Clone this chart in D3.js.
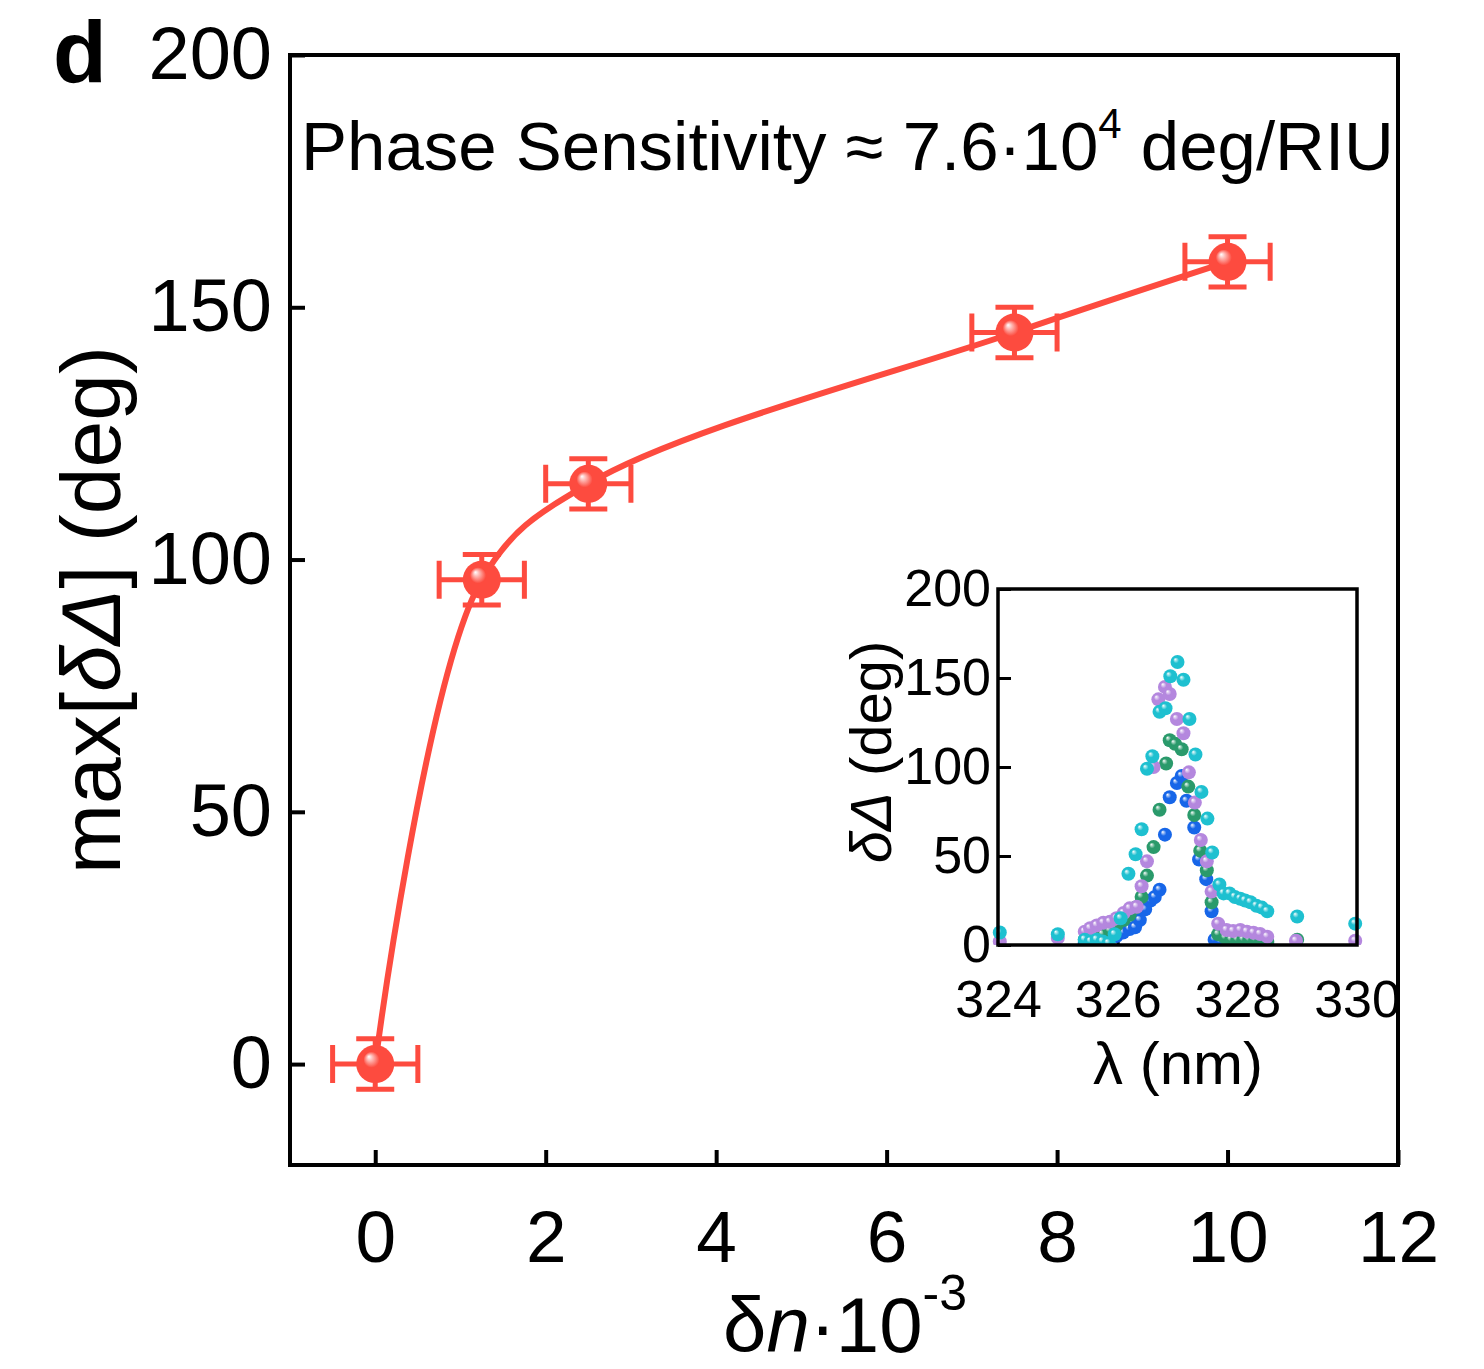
<!DOCTYPE html>
<html>
<head>
<meta charset="utf-8">
<script src="https://cdn.jsdelivr.net/npm/d3@7"></script>
<style>
  body { margin: 0; background: #fff; }
  svg text { font-family: "Liberation Sans", Arial, sans-serif; fill: #000; }
</style>
</head>
<body>
<div class="container"></div>
<script>
// main panel: max phase jump vs refractive index change
var dn = [0, 1.25, 2.5, 7.5, 10];
var maxDelta = [0, 96, 115, 145, 159];
var dnErr = [0.5, 0.5, 0.5, 0.5, 0.5];
var deltaErr = [5, 5, 5, 5, 5];
var xTicks = [0, 2, 4, 6, 8, 10, 12];
var yTicks = [0, 50, 100, 150, 200];

// inset: phase spectra, [lambda nm, delta deg]
var blueSpec = [[325.45,1],[325.55,1.5],[325.65,2],[325.75,3],[325.87,4],[325.98,5],[326.09,7],[326.2,9],
  [326.29,10],[326.37,14],[326.46,20],[326.55,25],[326.62,27],[326.7,31],[326.79,62],[326.87,83],
  [326.99,91],[327.07,95],[327.15,81],[327.28,66],[327.36,48],[327.48,37],[327.57,19],[327.62,3],
  [327.72,2],[327.82,1.5],[327.93,1],[328.05,1],[328.16,1],[328.27,1],[328.38,0.5],[328.5,0.5]];
var greenSpec = [[325.45,3],[325.55,4],[325.65,5],[325.75,6],[325.87,8],[325.98,11],[326.1,14],[326.2,17],
  [326.3,21],[326.4,27],[326.49,39],[326.6,55],[326.7,76],[326.81,102],[326.87,115],[326.96,113],
  [327.07,110],[327.18,89],[327.28,73],[327.38,53],[327.49,42],[327.57,24],[327.68,6],[327.8,4],
  [327.9,3],[328.0,3],[328.1,3],[328.2,3],[328.3,3],[328.4,3],[328.5,2],[329.0,3]];
var purpleSpec = [[324.03,2],[325.0,4],[325.45,7.5],[325.54,9.4],[325.65,11],[325.76,12.5],[325.87,13],
  [325.98,15],[326.1,18],[326.2,20.6],[326.32,21.5],[326.4,33],[326.49,47],[326.6,100],[326.68,138],
  [326.79,145],[326.87,141],[326.99,127],[327.1,119],[327.19,97],[327.29,80],[327.39,59],[327.49,47],
  [327.57,30],[327.68,12],[327.82,8.4],[327.93,7.9],[328.05,8.4],[328.16,7.5],[328.27,6.9],
  [328.38,6.2],[328.5,4.7],[328.98,2.4],[329.97,2.4]];
var cyanSpec = [[324.03,7],[325.0,6],[325.45,3],[325.55,2],[325.65,3],[325.75,2],[325.85,1],[325.95,6],
  [326.05,15],[326.18,40],[326.3,51],[326.4,65],[326.49,99],[326.58,106],[326.7,131],[326.8,133],
  [326.88,151],[327.0,159],[327.1,149],[327.2,127],[327.3,107],[327.4,86],[327.5,71],[327.58,52],
  [327.7,34],[327.77,29],[327.87,29],[327.96,27],[328.05,26],[328.13,25],[328.22,24],[328.32,22],
  [328.41,21],[328.5,19],[329.0,16],[329.97,12]];
var insetXTicks = [324, 326, 328, 330];
var insetYTicks = [0, 50, 100, 150, 200];

var red = "#fd4b3f";
var W = 1484, H = 1369;

var svg = d3.select(".container").append("svg")
    .attr("width", W)
    .attr("height", H);

var defs = svg.append("defs");
function ballGradient(id, color) {
  var g = defs.append("radialGradient")
      .attr("id", id)
      .attr("cx", "0.5").attr("cy", "0.5").attr("r", "0.5")
      .attr("fx", "0.33").attr("fy", "0.3");
  g.append("stop").attr("offset", "0%").attr("stop-color", "#fff");
  g.append("stop").attr("offset", "16%").attr("stop-color", d3.interpolateRgb("#fff", color)(0.4));
  g.append("stop").attr("offset", "42%").attr("stop-color", color);
  g.append("stop").attr("offset", "100%").attr("stop-color", color);
}
ballGradient("ball-red", red);

// ----------
// main axes
var x = d3.scaleLinear().domain([-1, 12]).range([290, 1398]);
var y = d3.scaleLinear().domain([-20, 200]).range([1165, 55]);

svg.append("g")
    .attr("transform", "translate(0,1165)")
    .call(d3.axisBottom(x).tickValues(xTicks).tickSize(-15).tickPadding(45).tickFormat(d3.format("d")))
    .call(function(g) {
      g.select(".domain").remove();
      g.selectAll("line").attr("stroke", "#000").attr("stroke-width", 4);
      g.selectAll("text").attr("font-size", 73).attr("font-family", null);
    });

svg.append("g")
    .attr("transform", "translate(290,0)")
    .call(d3.axisLeft(y).tickValues(yTicks).tickSize(-15).tickPadding(18).tickFormat(d3.format("d")))
    .call(function(g) {
      g.select(".domain").remove();
      g.selectAll("line").attr("stroke", "#000").attr("stroke-width", 4);
      g.selectAll("text").attr("font-size", 74).attr("font-family", null);
    });

svg.append("rect")
    .attr("x", 290).attr("y", 55)
    .attr("width", 1398 - 290).attr("height", 1165 - 55)
    .attr("fill", "none").attr("stroke", "#000").attr("stroke-width", 4);

// curve
var pts = dn.map(function(d, i) { return [d, maxDelta[i]]; });
var line = d3.line()
    .x(function(d) { return x(d[0]); })
    .y(function(d) { return y(d[1]); })
    .curve(d3.curveCatmullRom.alpha(0.5));
svg.append("path")
    .attr("d", line(pts))
    .attr("fill", "none")
    .attr("stroke", red)
    .attr("stroke-width", 6);

// error bars
var eb = svg.append("g").attr("stroke", red).attr("stroke-width", 5).attr("fill", "none");
var cap = 19;
pts.forEach(function(p, i) {
  var cx = x(p[0]), cy = y(p[1]);
  var x0 = x(p[0] - dnErr[i]), x1 = x(p[0] + dnErr[i]);
  var y0 = y(p[1] - deltaErr[i]), y1 = y(p[1] + deltaErr[i]);
  eb.append("path").attr("d",
    "M" + x0 + "," + cy + "H" + x1 +
    "M" + x0 + "," + (cy - cap) + "V" + (cy + cap) +
    "M" + x1 + "," + (cy - cap) + "V" + (cy + cap) +
    "M" + cx + "," + y0 + "V" + y1 +
    "M" + (cx - cap) + "," + y0 + "H" + (cx + cap) +
    "M" + (cx - cap) + "," + y1 + "H" + (cx + cap));
});

svg.append("g").selectAll("circle")
    .data(pts)
    .enter().append("circle")
      .attr("cx", function(d) { return x(d[0]); })
      .attr("cy", function(d) { return y(d[1]); })
      .attr("r", 19)
      .attr("fill", "url(#ball-red)");

// ----------
// labels
svg.append("text")
    .attr("x", 53).attr("y", 82)
    .attr("font-size", 88).attr("font-weight", "bold")
    .text("d");

var title = svg.append("text")
    .attr("x", 301).attr("y", 170)
    .attr("font-size", 69);
title.append("tspan").text("Phase Sensitivity \u2248 7.6\u00b710");
title.append("tspan").attr("font-size", 42).attr("dy", -32).text("4");
title.append("tspan").attr("dy", 32).text(" deg/RIU");

var yl = svg.append("text")
    .attr("transform", "translate(120,610) rotate(-90)")
    .attr("text-anchor", "middle")
    .attr("font-size", 84);
yl.append("tspan").text("max[");
yl.append("tspan").attr("font-style", "italic").text("\u03b4\u0394");
yl.append("tspan").text("] (deg)");

var xl = svg.append("text")
    .attr("x", 845).attr("y", 1352)
    .attr("text-anchor", "middle")
    .attr("font-size", 78);
xl.append("tspan").text("\u03b4");
xl.append("tspan").attr("font-style", "italic").text("n");
xl.append("tspan").text("\u00b710");
xl.append("tspan").attr("font-size", 50).attr("dy", -42).text("-3");

// ----------
// inset
var ix = d3.scaleLinear().domain([324, 330]).range([998, 1357]);
var iy = d3.scaleLinear().domain([0, 200]).range([945, 589]);

var series = [
  { data: blueSpec, color: "#1766e8", id: "ball-blue" },
  { data: greenSpec, color: "#2a9a6b", id: "ball-green" },
  { data: purpleSpec, color: "#b487de", id: "ball-purple" },
  { data: cyanSpec, color: "#1ec0d0", id: "ball-cyan" }
];
series.forEach(function(s) { ballGradient(s.id, s.color); });

var inset = svg.append("g");
inset.append("clipPath").attr("id", "inset-clip")
  .append("rect").attr("x", 990).attr("y", 580).attr("width", 375).attr("height", 365);

inset.append("g")
    .attr("transform", "translate(0,945)")
    .call(d3.axisBottom(ix).tickValues(insetXTicks).tickSize(-10).tickPadding(35).tickFormat(d3.format("d")))
    .call(function(g) {
      g.select(".domain").remove();
      g.selectAll("line").attr("stroke", "#000").attr("stroke-width", 3);
      g.selectAll("text").attr("font-size", 52).attr("font-family", null);
    });

inset.append("g")
    .attr("transform", "translate(998,0)")
    .call(d3.axisLeft(iy).tickValues(insetYTicks).tickSize(-13).tickPadding(7).tickFormat(d3.format("d")))
    .call(function(g) {
      g.select(".domain").remove();
      g.selectAll("line").attr("stroke", "#000").attr("stroke-width", 3);
      g.selectAll("text").attr("font-size", 52).attr("font-family", null);
    });

var dots = inset.append("g").attr("clip-path", "url(#inset-clip)");
series.forEach(function(s) {
  dots.append("g").selectAll("circle")
    .data(s.data)
    .enter().append("circle")
      .attr("cx", function(d) { return ix(d[0]); })
      .attr("cy", function(d) { return iy(d[1]); })
      .attr("r", 7)
      .attr("fill", "url(#" + s.id + ")");
});

inset.append("rect")
    .attr("x", 998).attr("y", 589)
    .attr("width", 1357 - 998).attr("height", 945 - 589)
    .attr("fill", "none").attr("stroke", "#000").attr("stroke-width", 3.5);

var iyl = inset.append("text")
    .attr("transform", "translate(891,752) rotate(-90)")
    .attr("text-anchor", "middle")
    .attr("font-size", 58);
iyl.append("tspan").attr("font-style", "italic").text("\u03b4\u0394");
iyl.append("tspan").text(" (deg)");

inset.append("text")
    .attr("x", 1178).attr("y", 1084)
    .attr("text-anchor", "middle")
    .attr("font-size", 60)
    .text("\u03bb (nm)");
</script>
</body>
</html>
